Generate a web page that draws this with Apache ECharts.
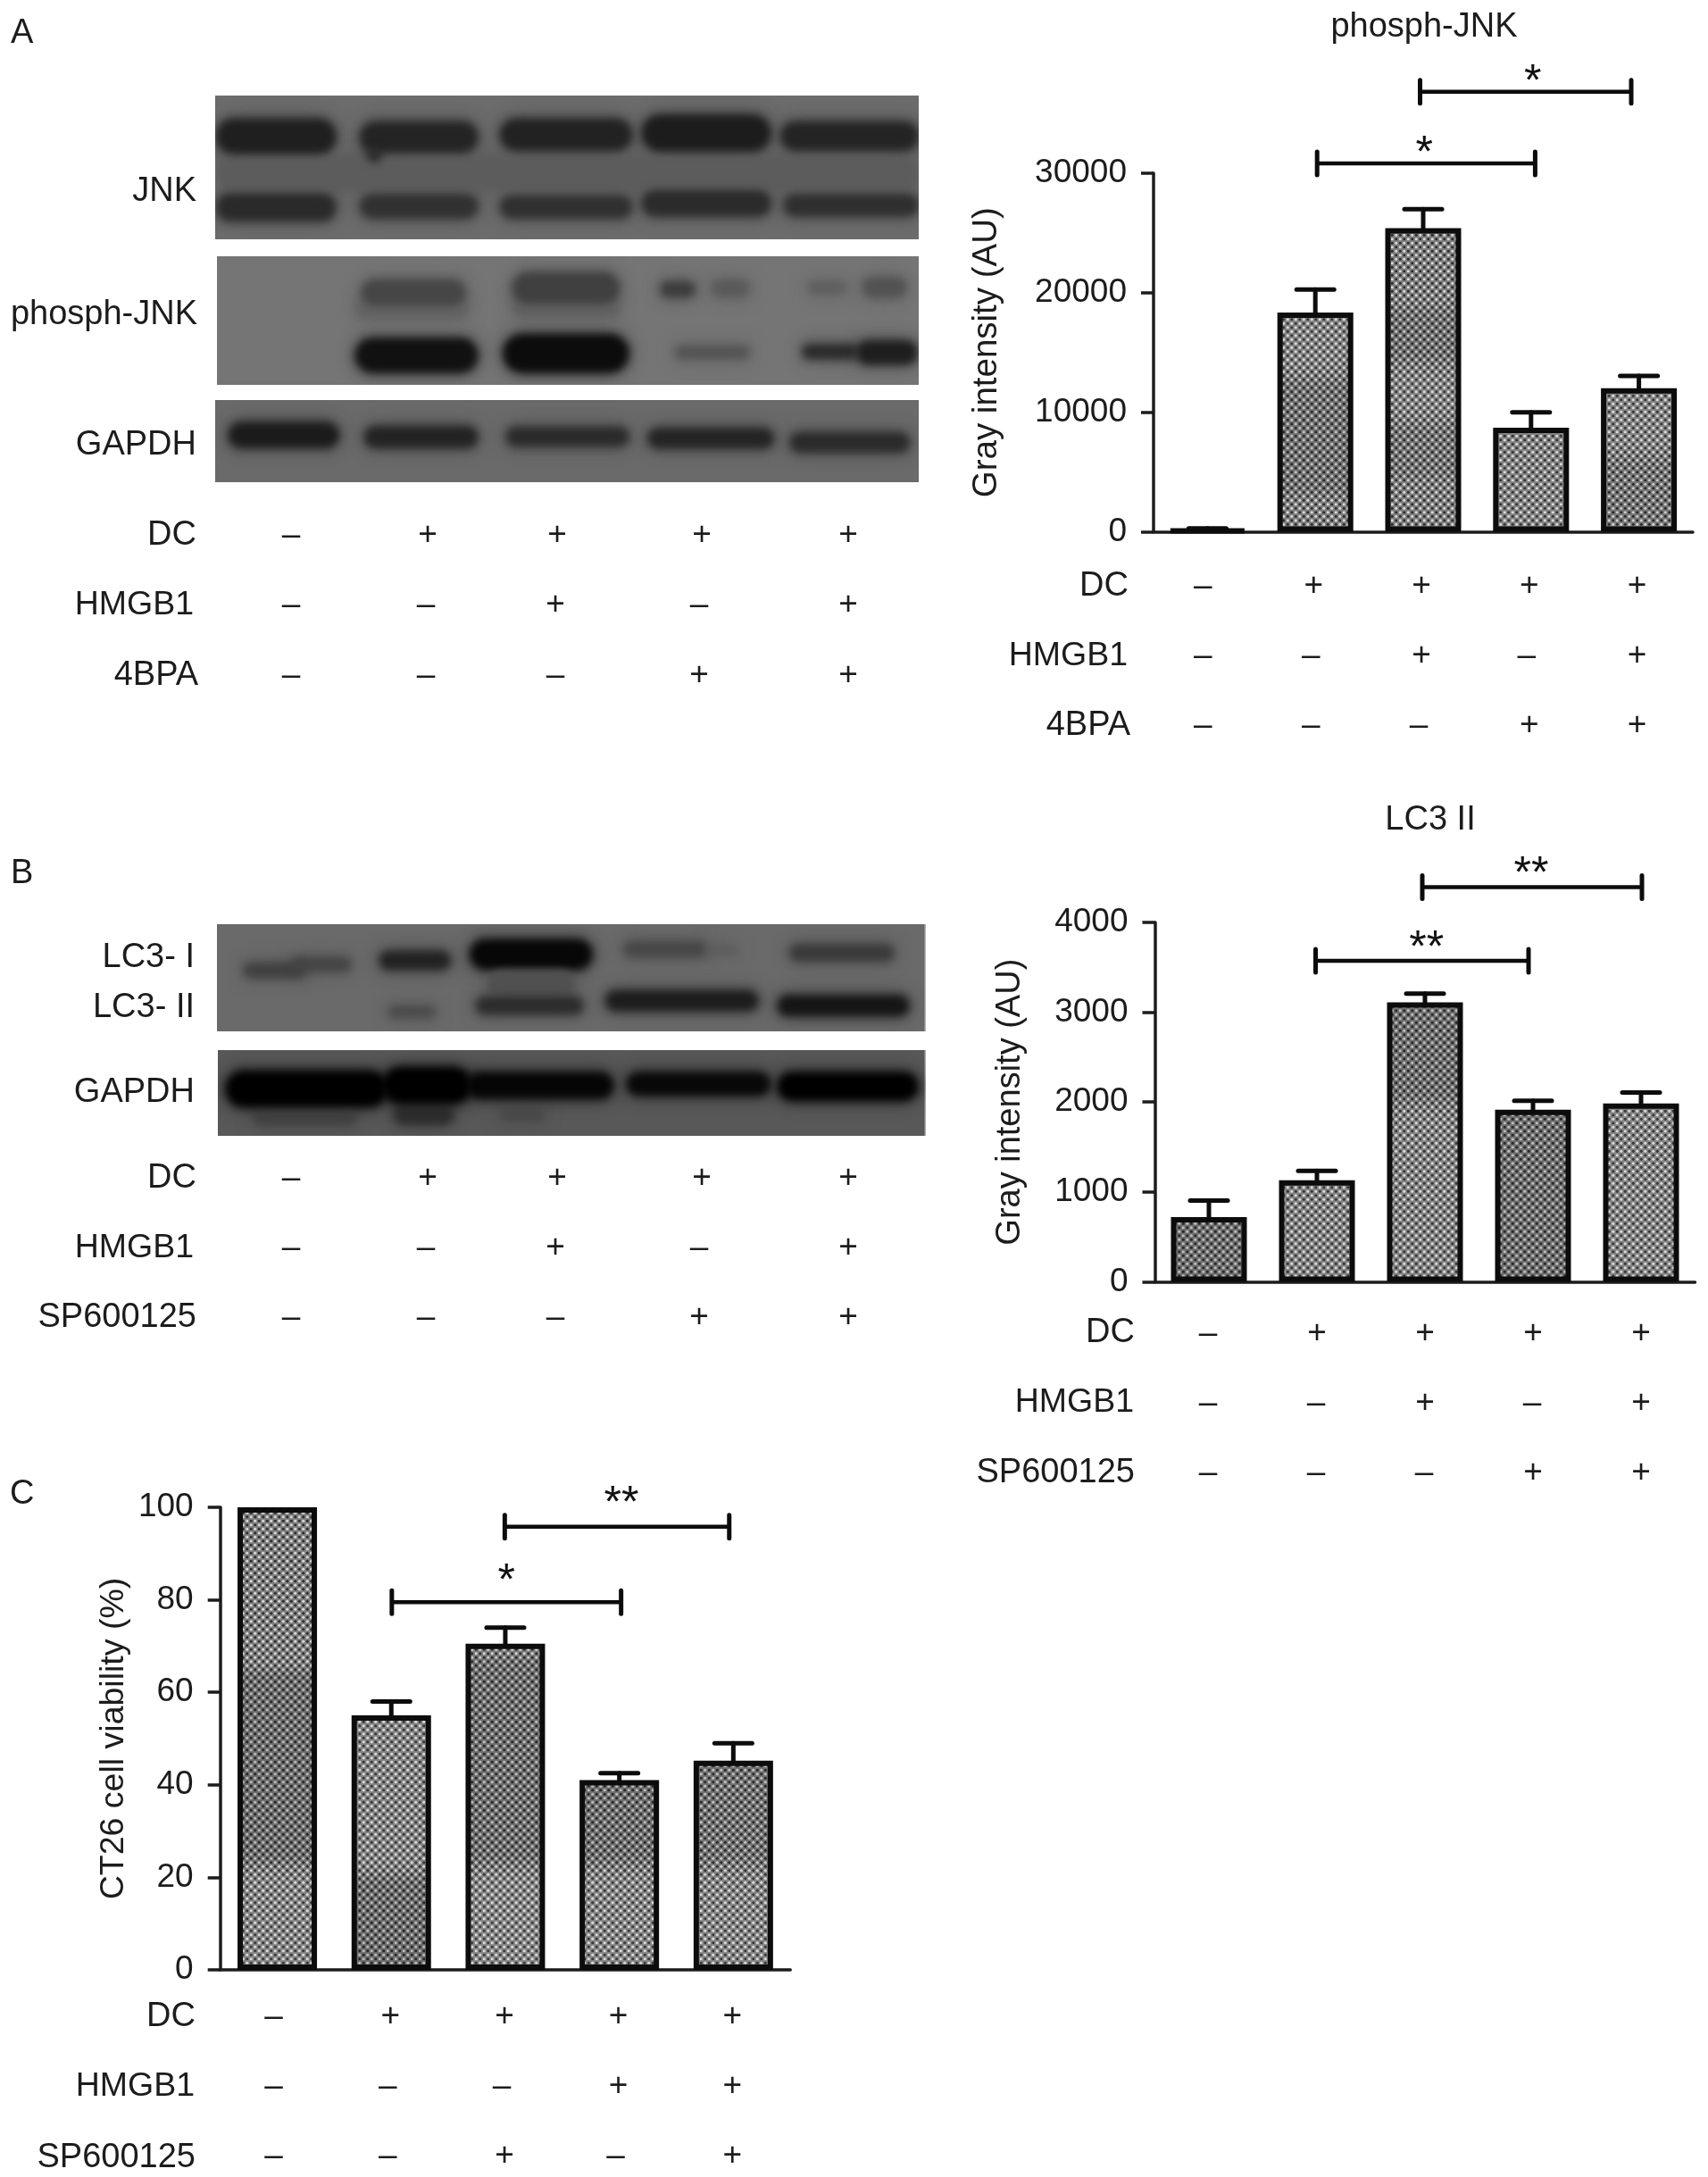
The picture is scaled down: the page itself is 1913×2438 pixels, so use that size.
<!DOCTYPE html>
<html><head><meta charset="utf-8">
<style>html,body{margin:0;padding:0;background:#fff}#c{width:1913px;height:2438px}</style>
<script src="https://cdn.jsdelivr.net/npm/echarts@6/dist/echarts.min.js"></script>
</head><body><div id="c"></div>
<script>
// ---- data ----
const titleA = 'phosph-JNK';
const titleB = 'LC3 II';
const yNameA = 'Gray intensity (AU)';
const yNameB = 'Gray intensity (AU)';
const yNameC = 'CT26 cell viability (%)';
const valuesA = [150, 18350, 25400, 8700, 12000];
const errTopA = [280, 20260, 27000, 9990, 13030];
const valuesB = [720, 1130, 3110, 1915, 1985];
const errTopB = [903, 1233, 3208, 2015, 2107];
const valuesC = [100, 55, 70.5, 41, 45.2];
const errTopC = [100, 58, 74, 42.5, 49];
const yMaxA = 30000, yStepA = 10000;
const yMaxB = 4000, yStepB = 1000;
const yMaxC = 100, yStepC = 20;
const dc = ['–','+','+','+','+'];
const hmgb1 = ['–','–','+','–','+'];
const inhib = ['–','–','–','+','+'];
const hmgb1C = ['–','–','–','+','+'];
const inhibC = ['–','–','+','–','+'];
const rowNamesA = ['DC','HMGB1','4BPA'];
const rowNamesB = ['DC','HMGB1','SP600125'];
const bracketsA = [[1,3,30825,'*'],[2,4,36820,'*']];
const bracketsB = [[1,3,3573,'**'],[2,4,4392,'**']];
const bracketsC = [[1,3,79.5,'*'],[2,4,95.8,'**']];

// ---- layout / style ----
const FONT = '"Liberation Sans", Arial, sans-serif';
const INK = '#1c1c1c';
const FS = 37, LFS = 38;
const grids = [
  {left:1292, top:194, width:604, height:401.4},
  {left:1293.5, top:1033, width:605, height:402.4},
  {left:246.7, top:1688, width:638.5, height:518}
];
const bracketDx = [[[2,4.6],[-3.5,-8.6]],[[-1.5,-5],[-3,1]],[[0.6,2],[-0.6,-4.6]]];
const bracketTextDx = [[-2,8],[5,-1],[0,5]];
const bracketTextDy = [[0,0],[-3,-3],[-12,-15]];

function tilePattern(shades){
  const W=9,H=2438;
  const cv=document.createElement('canvas'); cv.width=W; cv.height=H;
  const g=cv.getContext('2d');
  g.fillStyle='#7f7f7f'; g.fillRect(0,0,W,H);
  for(let y=-9;y<H+9;y+=9){
    for(const [dx,dy,col] of [[2.25,2.25,'#2e2e2e'],[6.75,6.75,'#2e2e2e'],[6.75,2.25,'#d8d8d8'],[2.25,6.75,'#d8d8d8']]){
      g.fillStyle=col; g.beginPath(); g.arc(dx,y+dy,1.55,0,Math.PI*2); g.fill();
    }
  }
  const f=14;
  for(const [y0,y1,a] of shades){
    for(let y=y0;y<y1;y++){
      const k=Math.min(1,(y-y0+1)/f,(y1-y)/f)*Math.abs(a);
      g.fillStyle=a>0?'rgba(0,0,0,'+k+')':'rgba(255,255,255,'+k+')';
      g.fillRect(0,y,W,1);
    }
  }
  return {image:cv,repeat:'repeat'};
}
const shadesA=[[[0,2438,.08]],
 [[270,345,.04],[345,420,-.05],[420,560,.10]],
 [[340,410,.10],[410,470,-.05],[470,540,.08]],
 [[480,620,-.04]],
 [[430,510,-.05],[510,590,.07]]];
const shadesB=[[[0,2438,.12]],[[0,2438,-.04]],[[1120,1240,.12],[1240,1440,-.04]],[[0,2438,.12]],[[0,2438,-.05]]];
const shadesC=[[[1864,2092,.14],[2092,2210,-.06]],
 [[1600,2096,-.05],[2096,2210,.14]],
 [[1850,2092,.12],[2092,2210,-.07]],
 [[1990,2092,.12],[2092,2210,-.06]],
 [[1960,2092,.10],[2092,2210,-.06]]];

function barItems(vals,shades){return vals.map((v,i)=>({value:v,itemStyle:{color:tilePattern(shades[i])}}));}

function signLabel(rows){
  return (v,i)=>rows.map(r=>r[i]==='+'?'{p|+}':'{m|–}').join('\n');
}
function richFor(pp,pm){return {
  p:{fontFamily:FONT,fontSize:FS,color:INK,lineHeight:78,padding:[0,pp,0,0]},
  m:{fontFamily:FONT,fontSize:FS,color:INK,lineHeight:78,padding:[0,pm,0,0]}
};}
function xAxis(gi,rows,margin,pp,pm){
  return {type:'category',gridIndex:gi,data:dc.map((_,i)=>rows.map(r=>r[i]).join(' ')),
    axisLine:{onZero:false,lineStyle:{color:INK,width:3.5}},
    axisTick:{alignWithLabel:true,length:14,lineStyle:{color:INK,width:3.5}},
    axisLabel:{interval:0,margin,formatter:signLabel(rows),rich:richFor(pp,pm),hideOverlap:false}};
}
function yAxis(gi,max,step,name,gap,fs){
  return {type:'value',gridIndex:gi,min:0,max,interval:step,name,nameLocation:'middle',nameGap:gap,nameRotate:90,
    nameMoveOverlap:false,
    nameTextStyle:{fontFamily:FONT,fontSize:fs,color:INK},
    axisLine:{show:true,lineStyle:{color:INK,width:3.5}},
    axisTick:{show:true,length:14,lineStyle:{color:INK,width:3.5}},
    splitLine:{show:false},
    axisLabel:{fontFamily:FONT,fontSize:FS,color:INK,margin:30,showMaxLabel:true,formatter:v=>String(v)}};
}
function barSeries(gi,vals,shades,w){
  return {type:'bar',xAxisIndex:gi,yAxisIndex:gi,barWidth:w,animation:false,silent:true,z:2,
    data:barItems(vals,shades),itemStyle:{borderColor:'#0c0c0c',borderWidth:6}};
}
function errSeries(gi,vals,tops){
  return {type:'custom',xAxisIndex:gi,yAxisIndex:gi,z:3,animation:false,silent:true,
    data:vals.map((v,i)=>[i,v,tops[i]]),encode:{x:0,y:[1,2]},
    renderItem(p,api){
      const a=api.coord([api.value(0),api.value(1)]), b=api.coord([api.value(0),api.value(2)]);
      if(api.value(2)<=api.value(1)) return {type:'group',children:[]};
      const st={stroke:'#0c0c0c',lineWidth:5,lineCap:'round'};
      return {type:'group',children:[
        {type:'line',shape:{x1:a[0],y1:a[1],x2:b[0],y2:b[1]},style:st},
        {type:'line',shape:{x1:b[0]-21,y1:b[1],x2:b[0]+21,y2:b[1]},style:st}]};
    }};
}
function bracketSeries(gi,list){
  return {type:'custom',xAxisIndex:gi,yAxisIndex:gi,z:4,animation:false,silent:true,clip:false,
    data:list.map(b=>[b[0],b[2],b[1]]),encode:{x:0,y:1},
    renderItem(p,api){
      const k=p.dataIndex, y=api.coord([api.value(0),api.value(1)])[1];
      const x1=api.coord([api.value(0),api.value(1)])[0]+bracketDx[gi][k][0];
      const x2=api.coord([api.value(2),api.value(1)])[0]+bracketDx[gi][k][1];
      const st={stroke:'#0c0c0c',lineWidth:4.5};
      const mark=list[k][3];
      return {type:'group',children:[
        {type:'line',shape:{x1:x1,y1:y,x2:x2,y2:y},style:st},
        {type:'line',shape:{x1:x1,y1:y-13,x2:x1,y2:y+13},style:{stroke:'#0c0c0c',lineWidth:5,lineCap:'round'}},
        {type:'line',shape:{x1:x2,y1:y-13,x2:x2,y2:y+13},style:{stroke:'#0c0c0c',lineWidth:5,lineCap:'round'}},
        {type:'text',style:{text:mark,x:(x1+x2)/2+bracketTextDx[gi][k],y:y-10+bracketTextDy[gi][k],textAlign:'center',textVerticalAlign:'middle',
          font:'50px '+FONT,fill:'#111'}}]};
    }};
}
function T(text,x,y,align,fs){
  return {type:'text',x,y:y+2,silent:true,style:{text,textAlign:align||'right',textVerticalAlign:'middle',
    font:(fs||LFS)+'px '+FONT,fill:INK}};
}

// ---- western blots (pictorial panels) ----
function blot(px,py,pw,ph,ox,oy,sx,sy,bg,bands){
  const cv=document.createElement('canvas'); cv.width=Math.round(pw); cv.height=Math.round(ph);
  const g=cv.getContext('2d');
  g.fillStyle=bg; g.fillRect(0,0,pw,ph);
  const paint=(a,b,c,d,col,grow)=>{
    const x0=(a/sx+ox)-px-grow, x1=(b/sx+ox)-px+grow, y0=(c/sy+oy)-py-grow, y1=(d/sy+oy)-py+grow;
    g.fillStyle=col; g.beginPath();
    g.roundRect(x0,y0,x1-x0,y1-y0,Math.min((x1-x0)/3,(y1-y0)/2)); g.fill();
  };
  g.filter='blur(9px)'; g.globalAlpha=.45;
  for(const [a,b,c,d,col] of bands) paint(a,b,c,d,col,4);
  g.filter='blur(5px)'; g.globalAlpha=1;
  for(const [a,b,c,d,col] of bands) paint(a,b,c,d,col,1);
  g.filter='none';
  return {type:'image',silent:true,style:{image:cv,x:px,y:py,width:pw,height:ph}};
}
const sxL=1.479, syA=2.178, syB=2.8;
const blots=[
 blot(241,106.6,788,161.4,0,80,sxL,syA,'#6c6c6c',[
  [360,1520,205,290,'#5c5c5c'],
  [360,555,118,198,'#1f1f1f'],[598,790,125,195,'#242424'],[610,630,190,218,'#2a2a2a'],[830,1045,118,190,'#222'],[1065,1275,108,192,'#1c1c1c'],[1295,1520,125,190,'#242424'],
  [360,555,300,362,'#2a2a2a'],[598,790,302,355,'#313131'],[830,1045,305,355,'#303030'],[1065,1275,292,350,'#2b2b2b'],[1300,1520,302,350,'#2f2f2f']]),
 blot(243,286.6,786,144.4,0,80,sxL,syA,'#757575',[
  [590,775,560,600,'#636363'],[850,1025,560,595,'#606060'],
  [600,770,510,570,'#464646'],[850,1025,492,565,'#404040'],[1095,1150,515,548,'#3c3c3c'],[1180,1240,510,548,'#5a5a5a'],[1340,1400,515,540,'#5e5e5e'],[1430,1500,505,548,'#525252'],
  [590,790,652,732,'#111'],[835,1040,642,732,'#0c0c0c'],[1120,1240,672,698,'#535353'],[1330,1420,668,698,'#2a2a2a'],[1420,1518,658,712,'#1e1e1e']]),
 blot(241,448,788,92,0,80,sxL,syA,'#6a6a6a',[
  [380,560,858,916,'#1b1b1b'],[605,790,868,916,'#232323'],[840,1040,870,912,'#2a2a2a'],[1075,1280,873,917,'#242424'],[1310,1505,883,927,'#2a2a2a']]),
 blot(243,1034.6,793.5,120.4,0,950,sxL,syB,'#6a6a6a',[
  [405,505,362,402,'#404040'],[485,580,345,382,'#444'],[630,745,325,377,'#222'],[780,980,288,377,'#070707'],[1035,1170,295,337,'#474747'],[1170,1220,310,330,'#5c5c5c'],[1310,1480,305,350,'#3a3a3a'],
  [810,950,385,470,'#505050'],[645,720,498,526,'#4a4a4a'],[790,965,468,516,'#2c2c2c'],[1005,1255,448,506,'#1d1d1d'],[1290,1505,463,522,'#151515']]),
 blot(244,1175.7,792.5,96.3,0,950,sxL,syB,'#585858',[
  [420,590,810,862,'#404040'],[655,750,805,862,'#2c2c2c'],[830,900,815,850,'#484848'],
  [375,640,700,808,'#000'],[635,780,688,798,'#000'],[775,1015,705,782,'#050505'],[1040,1275,705,772,'#080808'],[1290,1520,705,788,'#000']])
];

function signTable(xs,ysRows,rows){
  const out=[];
  rows.forEach((r,ri)=>r.forEach((s,ci)=>{
    out.push(T(s,xs[ri][ci],ysRows[ri],'center',FS));
  }));
  return out;
}
const blotXs=[[326,479,624,786,950],[326,477,622,783,950],[326,477,622,783,950]];

const graphic=[...blots,
  T('A',12,36,'left'),T('B',12,977,'left'),T('C',11,1672,'left'),
  T('JNK',220,213),T('phosph-JNK',221,351),T('GAPDH',220,497),
  T(rowNamesA[0],220,598),T(rowNamesA[1],217,675.5,'right',37.5),T(rowNamesA[2],222,755),
  ...signTable(blotXs,[598,675.5,755],[dc,hmgb1,inhib]),
  T('LC3- I',218,1071),T('LC3- II',218,1127),T('GAPDH',218,1222),
  T(rowNamesB[0],220,1318),T(rowNamesB[1],217,1396,'right',37.5),T(rowNamesB[2],220,1474),
  ...signTable(blotXs,[1318,1396,1474],[dc,hmgb1,inhib]),
  T(titleA,1595,29,'center'),T(titleB,1602,916.5,'center'),
  T(rowNamesA[0],1264,655),T(rowNamesA[1],1263,733,'right',37.5),T(rowNamesA[2],1266,811),
  T(rowNamesB[0],1271,1491),T(rowNamesB[1],1270,1569,'right',37.5),T(rowNamesB[2],1271,1647.6),
  T(rowNamesB[0],219,2257),T(rowNamesB[1],218,2335,'right',37.5),T(rowNamesB[2],219,2414.6)
];

const chart=echarts.init(document.getElementById('c'),null,{renderer:'canvas'});
chart.setOption({
  animation:false,backgroundColor:'#fff',
  grid:grids,
  xAxis:[xAxis(0,[dc,hmgb1,inhib],22,4,10),xAxis(1,[dc,hmgb1,inhib],19,0,2),xAxis(2,[dc,hmgb1C,inhibC],14,2,8)],
  yAxis:[yAxis(0,yMaxA,yStepA,yNameA,167,38.5),yAxis(1,yMaxB,yStepB,yNameB,143,38),yAxis(2,yMaxC,yStepC,yNameC,100,37.5)],
  series:[
    barSeries(0,valuesA,shadesA,85),errSeries(0,valuesA,errTopA),bracketSeries(0,bracketsA),
    barSeries(1,valuesB,shadesB,85),errSeries(1,valuesB,errTopB),bracketSeries(1,bracketsB),
    barSeries(2,valuesC,shadesC,89),errSeries(2,valuesC,errTopC),bracketSeries(2,bracketsC)
  ],
  graphic
});
</script></body></html>
